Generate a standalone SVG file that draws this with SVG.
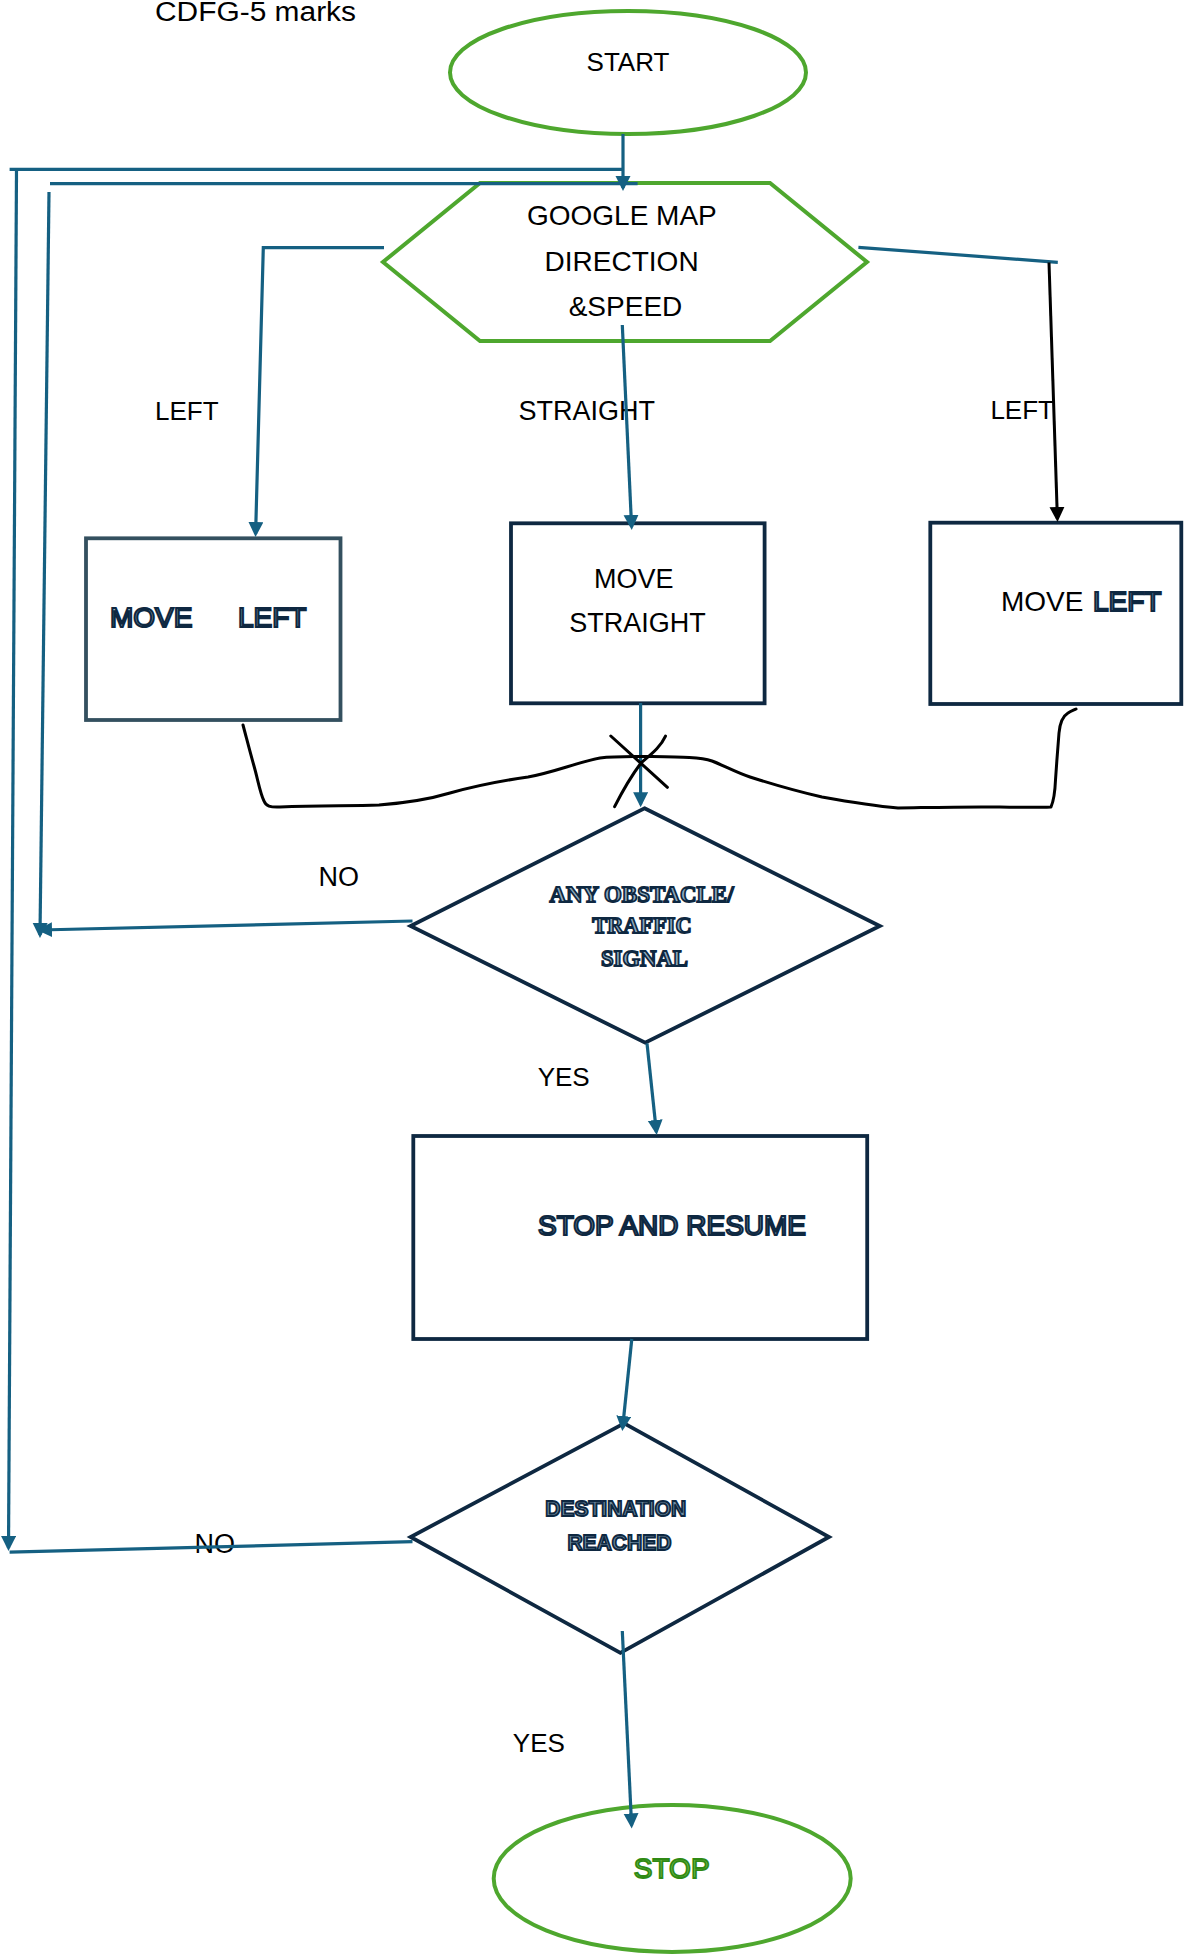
<svg xmlns="http://www.w3.org/2000/svg" width="1184" height="1955" viewBox="0 0 1184 1955">
<style>
  .lbl{font-family:"Liberation Sans",Arial,sans-serif;fill:#000;}
  .ol{font-family:"Liberation Sans",Arial,sans-serif;fill:#9fb9ca;stroke:#0e2841;stroke-width:2.1;}
  .olserif{font-family:"Liberation Serif","Times New Roman",serif;font-weight:bold;fill:#8fabbf;stroke:#0e2841;stroke-width:1.8;}
  .olbold{font-family:"Liberation Sans",Arial,sans-serif;font-weight:bold;fill:#6f8ea4;stroke:#0e2841;stroke-width:1.9;}
  .olgreen{font-family:"Liberation Sans",Arial,sans-serif;fill:#7cc456;stroke:#2f8a14;stroke-width:1.8;}
  .term{fill:none;stroke:#4ea72e;stroke-width:4;}
  .box{fill:none;stroke:#0e2841;stroke-width:3.8;}
  .conn{fill:none;stroke:#156082;stroke-width:3.2;}
  .blk{fill:none;stroke:#000;stroke-width:3;stroke-linejoin:round;stroke-linecap:round;}
</style>
<defs>
  <marker id="ab" markerUnits="userSpaceOnUse" markerWidth="16" markerHeight="16" refX="12" refY="7.5" orient="auto" viewBox="0 0 16 16">
    <path d="M0,0 L15,7.5 L0,15 z" fill="#156082"/>
  </marker>
  <marker id="ak" markerUnits="userSpaceOnUse" markerWidth="16" markerHeight="16" refX="12" refY="7.5" orient="auto" viewBox="0 0 16 16">
    <path d="M0,0 L15,7.5 L0,15 z" fill="#000"/>
  </marker>
</defs>
<rect width="1184" height="1955" fill="#fff"/>

<text class="lbl" x="155" y="21" font-size="27" textLength="201" lengthAdjust="spacingAndGlyphs">CDFG-5 marks</text>

<g id="start">
  <ellipse class="term" cx="628" cy="72.5" rx="178" ry="61.5"/>
  <text class="lbl" x="628" y="71" font-size="26" text-anchor="middle">START</text>
</g>

<g id="google-map">
  <polygon class="term" points="480,183 770,183 867,262 770,341 480,341 383,262"/>
  <text class="lbl" font-size="28" text-anchor="middle">
    <tspan x="625.5" y="225">GOOGLE MAP</tspan>
    <tspan x="625.5" y="270.7">DIRECTION</tspan>
    <tspan x="625.5" y="315.7">&amp;SPEED</tspan>
  </text>
</g>

<g id="move-left-1">
  <rect x="86" y="538.3" width="254.5" height="181.7" fill="none" stroke="#34505f" stroke-width="3.8"/>
  <text class="ol" font-size="28" y="627"><tspan x="110">MOVE</tspan><tspan x="238">LEFT</tspan></text>
</g>

<g id="move-straight">
  <rect class="box" x="511" y="523.3" width="253.6" height="180"/>
  <text class="lbl" font-size="27" text-anchor="middle">
    <tspan x="637.6" y="587.7">MOVE</tspan>
    <tspan x="637.6" y="632.3">STRAIGHT</tspan>
  </text>
</g>

<g id="move-left-2">
  <rect class="box" x="930.3" y="522.7" width="251" height="181.3"/>
  <text font-size="28" y="610.7"><tspan class="lbl" x="1001">MOVE </tspan><tspan class="ol" x="1093">LEFT</tspan></text>
</g>

<g id="obstacle">
  <polygon class="box" points="644.5,808.3 879.8,926 645.2,1042.7 410.6,926"/>
  <text class="olserif" font-size="24" text-anchor="middle">
    <tspan x="644.5" y="901.7" textLength="184" lengthAdjust="spacingAndGlyphs">ANY OBSTACLE/</tspan>
    <tspan x="645" y="933.3" textLength="99.5" lengthAdjust="spacingAndGlyphs">TRAFFIC</tspan>
    <tspan x="644.5" y="965.7" textLength="87" lengthAdjust="spacingAndGlyphs">SIGNAL</tspan>
  </text>
</g>

<g id="stop-resume">
  <rect class="box" x="413.3" y="1136" width="453.9" height="203"/>
  <text class="ol" x="538" y="1235" font-size="28" textLength="268" lengthAdjust="spacingAndGlyphs">STOP AND RESUME</text>
</g>

<g id="destination">
  <polygon class="box" points="624.2,1423.3 829,1537 620.4,1652.9 410.6,1537"/>
  <text class="olbold" font-size="22" text-anchor="middle">
    <tspan x="618.8" y="1515.9" textLength="141" lengthAdjust="spacingAndGlyphs">DESTINATION</tspan>
    <tspan x="619.4" y="1549.8" textLength="104" lengthAdjust="spacingAndGlyphs">REACHED</tspan>
  </text>
</g>

<g id="stop">
  <ellipse class="term" cx="672.2" cy="1878.5" rx="178.5" ry="73.5"/>
  <text class="olgreen" x="671.7" y="1877.8" font-size="28" text-anchor="middle">STOP</text>
</g>

<g id="labels">
  <text class="lbl" x="155" y="420" font-size="26">LEFT</text>
  <text class="lbl" x="518.6" y="420" font-size="27">STRAIGHT</text>
  <text class="lbl" x="990.4" y="419.3" font-size="26">LEFT</text>
  <text class="lbl" x="318.4" y="886" font-size="27">NO</text>
  <text class="lbl" x="537.7" y="1086" font-size="26">YES</text>
  <text class="lbl" x="194.4" y="1552.5" font-size="27">NO</text>
  <text class="lbl" x="512.8" y="1752.4" font-size="26">YES</text>
</g>

<g id="connectors">
  <path class="conn" d="M623,134 L623,188" marker-end="url(#ab)"/>
  <path class="conn" d="M9.6,169.4 H623.5"/>
  <path class="conn" d="M16.5,171 L8.5,1548" marker-end="url(#ab)"/>
  <path class="conn" d="M412.5,1541.7 L9.6,1552.2"/>
  <path class="conn" d="M50,183.6 H637.6"/>
  <path class="conn" d="M49,192 L40,935" marker-end="url(#ab)"/>
  <path class="conn" d="M412.5,921 L40,930" marker-end="url(#ab)"/>
  <path class="conn" d="M384,247.7 H263.3 L255.6,534" marker-end="url(#ab)"/>
  <path class="conn" d="M622.3,325 L631.6,527" marker-end="url(#ab)"/>
  <path class="conn" d="M858.4,247.3 L1057.8,262.3"/>
  <path d="M1049,262.5 L1057.4,519" fill="none" stroke="#000" stroke-width="3" marker-end="url(#ak)"/>
  <path class="conn" d="M640.6,703 V804.3" marker-end="url(#ab)"/>
  <path class="conn" d="M647,1043.3 L656.4,1132" marker-end="url(#ab)"/>
  <path class="conn" d="M631.8,1339 L622.6,1428" marker-end="url(#ab)"/>
  <path class="conn" d="M622.3,1631 L631.6,1825.4" marker-end="url(#ab)"/>
  <path class="blk" d="M243,725 C247,740 250,752 254,766 C258,780 260,793 264,801 C266,806 270,807.5 280,807 C320,805.5 350,806 379,805 C405,803 430,799 450,793 C475,786 500,781 528,777 C555,772 575,763 600,758 C615,756 630,756.5 645,756.5 C680,757 700,757 712,761 C725,766 735,772 750,777 C775,785 800,792 822,797 C850,802 875,806 898,808 C930,807.5 960,806.5 1000,807 C1025,807.5 1040,807.5 1051,807 C1054,800 1055,792 1055.5,780 C1056.5,765 1058,745 1059,733 C1060,722 1063,716 1068,713 C1071,711 1074,710 1076,709"/>
  <path class="blk" d="M610.8,736 L667.4,787.3"/>
  <path class="blk" d="M665.5,736 C660,748 650,755 641,763 C632,775 622,792 614.6,806.7"/>
</g>
</svg>
